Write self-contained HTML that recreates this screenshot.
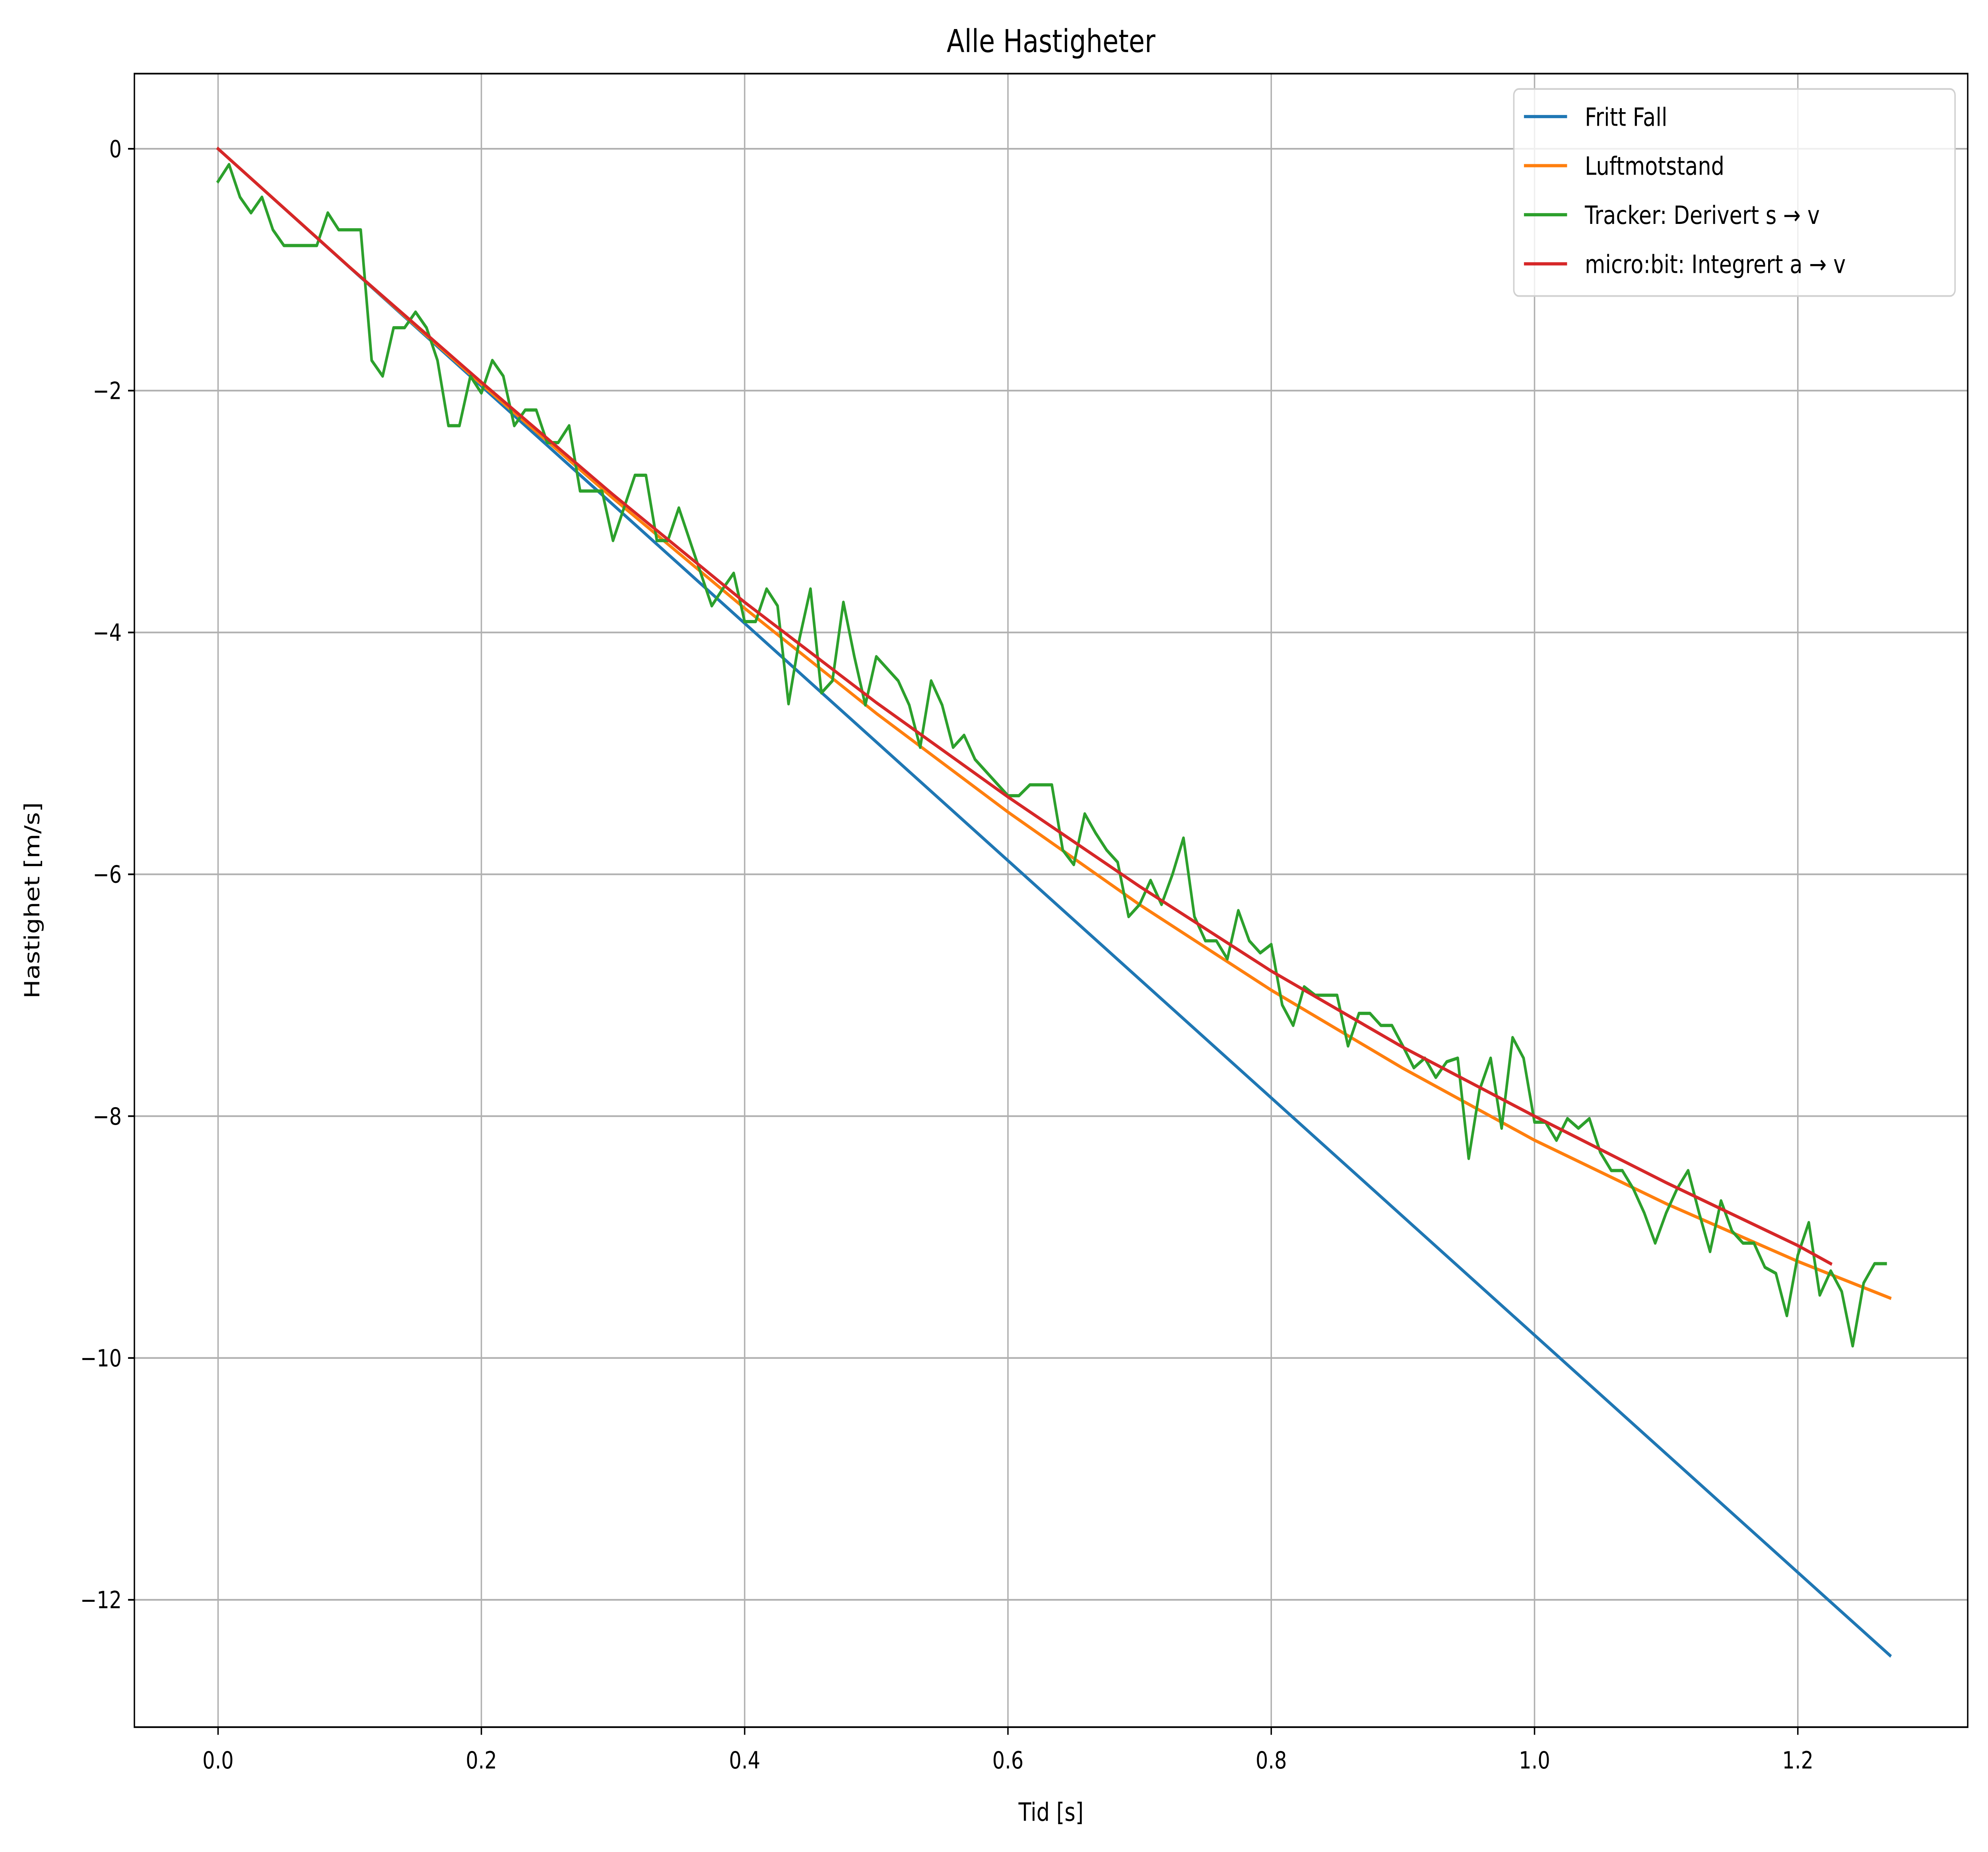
<!DOCTYPE html>
<html><head><meta charset="utf-8"><style>
html,body{margin:0;padding:0;background:#fff;width:100%;height:100%;overflow:hidden;}
svg{display:block;width:100vw;height:100vh;font-family:"DejaVu Sans","Liberation Sans",sans-serif;}
</style></head><body>
<svg id="chart" viewBox="0 0 1568 1207.4" preserveAspectRatio="none" xmlns="http://www.w3.org/2000/svg">
<rect width="1568" height="1207.4" fill="#fff"/>
<text x="829" y="34" font-size="20.5" text-anchor="middle">Alle Hastigheter</text>
<g id="grid"></g>
<g id="series"></g>
<rect x="106" y="48" width="1446" height="1078" fill="none" stroke="#000" stroke-width="1.1"/>
<g id="ticks"></g>
<text x="829" y="1187" font-size="16.5" text-anchor="middle">Tid [s]</text>
<text x="31" y="587" font-size="16.5" text-anchor="middle" transform="rotate(-90 31 587)">Hastighet [m/s]</text>
<g id="legend">
<rect x="1194" y="58" width="348" height="135" rx="4" fill="#fff" fill-opacity="0.8" stroke="#d0d0d0" stroke-width="1.1"/>
</g>
</svg>
<script>
const xTicks=[0.0,0.2,0.4,0.6,0.8,1.0,1.2];
const xTickLabels=["0.0","0.2","0.4","0.6","0.8","1.0","1.2"];
const yTicks=[0,-2,-4,-6,-8,-10,-12];
const yTickLabels=["0","\u22122","\u22124","\u22126","\u22128","\u221210","\u221212"];
const frittT=[0,1.27];
const frittV=[0,-12.46];
const luftT=[0,0.1,0.2,0.3,0.4,0.5,0.6,0.7,0.8,0.9,1.0,1.1,1.2,1.27];
const luftV=[0,-0.979,-1.946,-2.890,-3.800,-4.669,-5.485,-6.251,-6.958,-7.604,-8.199,-8.724,-9.201,-9.504];
const microT=[0,0.1,0.2,0.3,0.4,0.5,0.6,0.7,0.8,0.9,1.0,1.1,1.2,1.225];
const microV=[0,-0.98,-1.93,-2.86,-3.75,-4.58,-5.36,-6.1,-6.8,-7.43,-8.0,-8.55,-9.07,-9.22];
const trackerDt=1/120;
const trackerV=[-0.27,-0.13,-0.4,-0.53,-0.4,-0.67,-0.8,-0.8,-0.8,-0.8,-0.53,-0.67,-0.67,-0.67,-1.75,-1.88,-1.48,-1.48,-1.35,-1.48,-1.75,-2.29,-2.29,-1.88,-2.02,-1.75,-1.88,-2.29,-2.16,-2.16,-2.43,-2.43,-2.29,-2.83,-2.83,-2.83,-3.24,-2.97,-2.7,-2.7,-3.24,-3.24,-2.97,-3.24,-3.51,-3.78,-3.64,-3.51,-3.91,-3.91,-3.64,-3.78,-4.59,-4.05,-3.64,-4.5,-4.4,-3.75,-4.2,-4.6,-4.2,-4.3,-4.4,-4.6,-4.95,-4.4,-4.6,-4.95,-4.85,-5.05,-5.15,-5.25,-5.35,-5.35,-5.26,-5.26,-5.26,-5.8,-5.92,-5.5,-5.66,-5.8,-5.9,-6.35,-6.25,-6.05,-6.25,-6.0,-5.7,-6.35,-6.55,-6.55,-6.7,-6.3,-6.55,-6.65,-6.58,-7.08,-7.25,-6.93,-7.0,-7.0,-7.0,-7.42,-7.15,-7.15,-7.25,-7.25,-7.42,-7.6,-7.52,-7.68,-7.55,-7.52,-8.35,-7.78,-7.52,-8.1,-7.35,-7.52,-8.05,-8.05,-8.2,-8.02,-8.1,-8.02,-8.3,-8.45,-8.45,-8.6,-8.8,-9.05,-8.8,-8.6,-8.45,-8.8,-9.12,-8.7,-8.95,-9.05,-9.05,-9.25,-9.3,-9.65,-9.15,-8.88,-9.48,-9.28,-9.45,-9.9,-9.38,-9.22,-9.22];
const seriesNames=["Fritt Fall","Luftmotstand","Tracker: Derivert s \u2192 v","micro:bit: Integrert a \u2192 v"];
const seriesColors=["#1f77b4","#ff7f0e","#2ca02c","#d62728"];

const NS="http://www.w3.org/2000/svg";
function sx(t){return 172+(t-0)*(1418-172)/1.2;}
function sy(v){return 97+(0-v)*(1043-97)/12;}
function mk(tag,attrs,parent){const e=document.createElementNS(NS,tag);for(const k in attrs)e.setAttribute(k,attrs[k]);parent.appendChild(e);return e;}
const grid=document.getElementById('grid'),ticks=document.getElementById('ticks'),series=document.getElementById('series');
xTicks.forEach((t,i)=>{
  const x=sx(t);
  const g=mk('line',{x1:x,x2:x,y1:48,y2:1126,stroke:'#b0b0b0','stroke-width':1.1},grid);
  
  
  const tk=mk('line',{x1:x,x2:x,y1:1126,y2:1131,stroke:'#000','stroke-width':1.1},ticks);
  
  
  const lb=mk('text',{x:x,y:1153,'font-size':15.5,'text-anchor':'middle'},ticks);
  lb.textContent=xTickLabels[i];
  
  
});
yTicks.forEach((v,i)=>{
  const y=sy(v);
  const g=mk('line',{x1:106,x2:1552,y1:y,y2:y,stroke:'#b0b0b0','stroke-width':1.1},grid);
  
  
  const tk=mk('line',{x1:101,x2:106,y1:y,y2:y,stroke:'#000','stroke-width':1.1},ticks);
  
  
  const lb=mk('text',{x:96,y:y+5.5,'font-size':15.5,'text-anchor':'end'},ticks);
  lb.textContent=yTickLabels[i];
  
  
});
function line(ts,vs,color,name){
  const pts=ts.map((t,i)=>sx(t).toFixed(2)+','+sy(vs[i]).toFixed(2)).join(' ');
  const p=mk('polyline',{points:pts,fill:'none',stroke:color,'stroke-width':2.1,'stroke-linejoin':'round','stroke-linecap':'square'},series);
  
  
}
line(frittT,frittV,seriesColors[0],'fritt-fall-line');
line(luftT,luftV,seriesColors[1],'luftmotstand-line');
line(trackerV.map((v,i)=>i*trackerDt),trackerV,seriesColors[2],'tracker-line');
line(microT,microV,seriesColors[3],'microbit-line');
const legend=document.getElementById('legend');
seriesNames.forEach((n,i)=>{
  const y=76+i*32;
  const l=mk('line',{x1:1202,x2:1236,y1:y,y2:y,stroke:seriesColors[i],'stroke-width':2.1},legend);
  
  
  const t=mk('text',{x:1250,y:y+6,'font-size':16.5},legend);
  t.textContent=n;
  
  
});
</script>
</body></html>
